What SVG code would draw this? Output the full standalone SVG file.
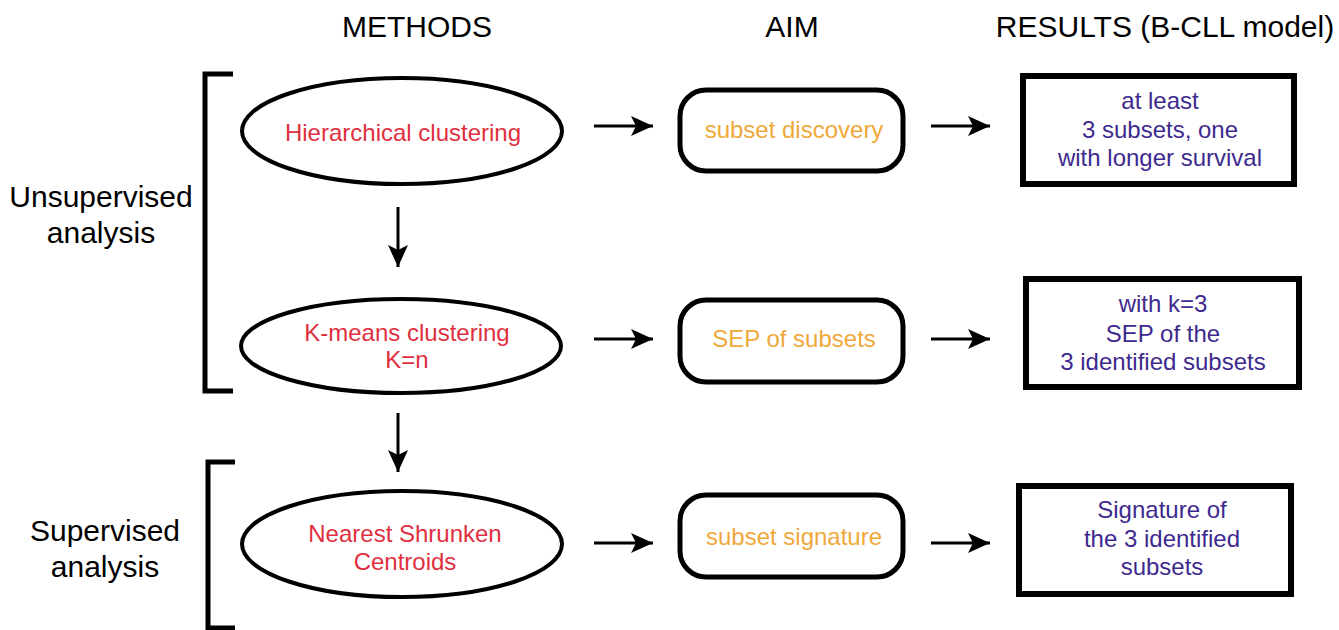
<svg xmlns="http://www.w3.org/2000/svg" width="1339" height="630" viewBox="0 0 1339 630">
  <style>
    text { font-family: "Liberation Sans", Arial, sans-serif; }
    .hdr { font-size: 30px; fill: #000; text-anchor: middle; }
    .side { font-size: 30px; fill: #000; text-anchor: middle; }
    .meth { font-size: 24px; fill: #E0303F; text-anchor: middle; }
    .aim { font-size: 24px; fill: #EFA83A; text-anchor: middle; }
    .res { font-size: 24px; fill: #3E2A8E; text-anchor: middle; }
    .ell { fill: #fff; stroke: #000; stroke-width: 4; }
    .rbox { fill: #fff; stroke: #000; stroke-width: 5; }
    .sbox { fill: #fff; stroke: #000; stroke-width: 6; }
    .br { fill: none; stroke: #000; stroke-width: 5; }
    .conn { stroke: #000; stroke-width: 3; fill: none; marker-end: url(#ah); }
  </style>
  <defs>
    <marker id="ah" markerUnits="userSpaceOnUse" viewBox="0 0 22 20" refX="22" refY="10" markerWidth="22" markerHeight="20" orient="auto">
      <path d="M0,0 L22,10 L0,20 L5,10 Z" fill="#000"/>
    </marker>
  </defs>
  <rect width="1339" height="630" fill="#fff"/>

  <g id="headers">
    <text class="hdr" x="417" y="37">METHODS</text>
    <text class="hdr" x="792" y="37">AIM</text>
    <text class="hdr" x="1165" y="37">RESULTS (B-CLL model)</text>
  </g>

  <g id="unsupervised-label">
    <path class="br" d="M233,74 H205 V391 H233"/>
    <text class="side" x="101" y="207">Unsupervised</text>
    <text class="side" x="101" y="243">analysis</text>
  </g>
  <g id="supervised-label">
    <path class="br" d="M235,462 H208 V628 H235"/>
    <text class="side" x="105" y="541">Supervised</text>
    <text class="side" x="105" y="577">analysis</text>
  </g>

  <g id="hierarchical">
    <ellipse class="ell" cx="402" cy="131" rx="160" ry="53"/>
    <text class="meth" x="403" y="141">Hierarchical clustering</text>
  </g>
  <g id="kmeans">
    <ellipse class="ell" cx="401" cy="346" rx="160" ry="47"/>
    <text class="meth" x="407" y="341">K-means clustering</text>
    <text class="meth" x="407" y="368">K=n</text>
  </g>
  <g id="nsc">
    <ellipse class="ell" cx="402" cy="544" rx="160" ry="53"/>
    <text class="meth" x="405" y="542">Nearest Shrunken</text>
    <text class="meth" x="405" y="570">Centroids</text>
  </g>

  <g id="aim-discovery">
    <rect class="rbox" x="680" y="90" width="223" height="81" rx="26"/>
    <text class="aim" x="794" y="138">subset discovery</text>
  </g>
  <g id="aim-sep">
    <rect class="rbox" x="680" y="300" width="223" height="82" rx="26"/>
    <text class="aim" x="794" y="347">SEP of subsets</text>
  </g>
  <g id="aim-signature">
    <rect class="rbox" x="680" y="495" width="223" height="82" rx="26"/>
    <text class="aim" x="794" y="545">subset signature</text>
  </g>

  <g id="res-1">
    <rect class="sbox" x="1023" y="76" width="271" height="108"/>
    <text class="res" x="1160" y="109">at least</text>
    <text class="res" x="1160" y="138">3 subsets, one</text>
    <text class="res" x="1160" y="166">with longer survival</text>
  </g>
  <g id="res-2">
    <rect class="sbox" x="1026" y="279" width="273" height="108"/>
    <text class="res" x="1163" y="312">with k=3</text>
    <text class="res" x="1163" y="342">SEP of the</text>
    <text class="res" x="1163" y="370">3 identified subsets</text>
  </g>
  <g id="res-3">
    <rect class="sbox" x="1019" y="486" width="272" height="108"/>
    <text class="res" x="1162" y="518">Signature of</text>
    <text class="res" x="1162" y="547">the 3 identified</text>
    <text class="res" x="1162" y="575">subsets</text>
  </g>

  <g id="connectors">
    <line class="conn" x1="594" y1="126" x2="653" y2="126"/>
    <line class="conn" x1="931" y1="126" x2="990" y2="126"/>
    <line class="conn" x1="594" y1="339" x2="653" y2="339"/>
    <line class="conn" x1="931" y1="339" x2="990" y2="339"/>
    <line class="conn" x1="594" y1="543" x2="653" y2="543"/>
    <line class="conn" x1="931" y1="543" x2="990" y2="543"/>
    <line class="conn" x1="398" y1="207" x2="398" y2="267"/>
    <line class="conn" x1="398" y1="413" x2="398" y2="472"/>
  </g>
</svg>
